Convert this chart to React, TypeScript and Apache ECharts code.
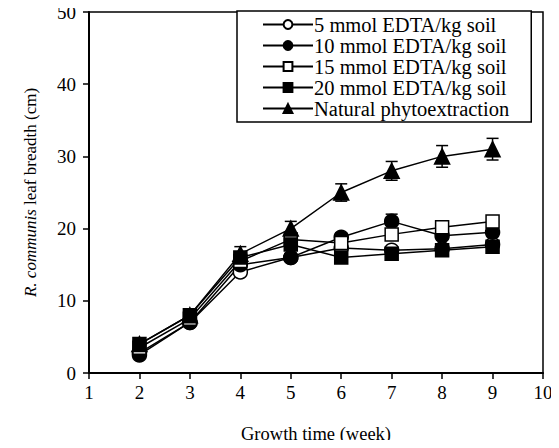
import React, { useEffect, useRef } from "react";
import * as echarts from "echarts";

const weeks = [2, 3, 4, 5, 6, 7, 8, 9];
const s5 = [2.8, 7.0, 14.0, 16.0, 17.3, 17.0, 17.2, 17.8];
const s10 = [2.5, 7.0, 15.0, 16.0, 18.8, 21.0, 19.0, 19.5];
const s15 = [3.5, 7.5, 15.5, 18.5, 18.0, 19.2, 20.2, 21.0];
const s20 = [4.0, 8.0, 16.0, 17.8, 16.0, 16.5, 17.0, 17.5];
const natural = [4.0, 8.0, 16.5, 20.0, 25.0, 28.0, 30.0, 31.0];
const naturalErr = [0.3, 0.4, 1.0, 1.0, 1.2, 1.3, 1.5, 1.5];
const s10Err = [0.2, 0.3, 0.5, 0.5, 0.6, 1.0, 0.6, 0.6];
const yTicks = [0, 10, 20, 30, 40, 50];
const xTicks = [1, 2, 3, 4, 5, 6, 7, 8, 9, 10];

const names = [
  "5 mmol EDTA/kg soil",
  "10 mmol EDTA/kg soil",
  "15 mmol EDTA/kg soil",
  "20 mmol EDTA/kg soil",
  "Natural phytoextraction",
];

const FONT = "'Liberation Serif', 'Times New Roman', serif";

export default function App() {
  const ref = useRef<HTMLDivElement>(null);
  useEffect(() => {
    if (!ref.current) return;
    const chart = echarts.init(ref.current, undefined, { renderer: "svg" });
    const pair = (arr: number[]) => weeks.map((w, i) => [w, arr[i]]);
    const errData = (arr: number[], err: number[]) =>
      weeks.map((w, i) => [w, arr[i] - err[i], arr[i] + err[i]]);
    const errSeries = (arr: number[], err: number[], z: number) => ({
      type: "custom",
      z,
      silent: true,
      data: errData(arr, err),
      renderItem: (params: any, api: any) => {
        const x = api.value(0);
        const lo = api.coord([x, api.value(1)]);
        const hi = api.coord([x, api.value(2)]);
        const w = 6;
        const st = { stroke: "#000", lineWidth: 1.5 };
        return {
          type: "group",
          children: [
            { type: "line", shape: { x1: lo[0], y1: lo[1], x2: hi[0], y2: hi[1] }, style: st },
            { type: "line", shape: { x1: hi[0] - w, y1: hi[1], x2: hi[0] + w, y2: hi[1] }, style: st },
            { type: "line", shape: { x1: lo[0] - w, y1: lo[1], x2: lo[0] + w, y2: lo[1] }, style: st },
          ],
        };
      },
    });
    const lineSeries = (name: string, arr: number[], symbol: string, fill: string, size: number) => ({
      name,
      type: "line",
      data: pair(arr),
      symbol,
      symbolSize: size,
      showAllSymbol: true,
      lineStyle: { color: "#000", width: 1.5 },
      itemStyle: { color: fill, borderColor: "#000", borderWidth: 1.5 },
      z: 3,
    });
    chart.setOption({
      animation: false,
      backgroundColor: "#fff",
      grid: { left: 89, right: 16, top: 12, bottom: 74, show: true, borderColor: "#000", borderWidth: 1.5 },
      legend: {
        data: names,
        orient: "vertical",
        left: 237,
        top: 11,
        itemWidth: 50,
        itemHeight: 11,
        itemGap: 0,
        padding: [3, 22, 3, 25],
        backgroundColor: "#fff",
        borderColor: "#000",
        borderWidth: 1.5,
        borderRadius: 0,
        textStyle: { fontFamily: FONT, fontSize: 20.5, lineHeight: 20.5, color: "#000", padding: [0, 0, 0, -4] },
        inactiveColor: "#000",
        selectedMode: false,
        z: 10,
      },
      xAxis: {
        type: "value",
        min: 1,
        max: 10,
        interval: 1,
        name: "Growth time (week)",
        nameLocation: "middle",
        nameGap: 51,
        nameTextStyle: { fontFamily: FONT, fontSize: 18.5, color: "#000" },
        axisLine: { show: true, onZero: false, lineStyle: { color: "#000", width: 2 } },
        axisTick: { show: true, inside: false, length: 6, lineStyle: { color: "#000", width: 1.5 } },
        axisLabel: {
          fontFamily: FONT,
          fontSize: 19,
          color: "#000",
          margin: 10,
          formatter: (v: number) => (xTicks.includes(v) ? String(v) : ""),
        },
        splitLine: { show: false },
      },
      yAxis: {
        type: "value",
        min: 0,
        max: 50,
        interval: 10,
        name: "{i|R. communis} leaf breadth (cm)",
        nameLocation: "middle",
        nameGap: 50,
        nameRotate: 90,
        nameTextStyle: {
          fontFamily: FONT,
          fontSize: 17,
          color: "#000",
          rich: { i: { fontFamily: FONT, fontSize: 17, fontStyle: "italic", color: "#000" } },
        },
        axisLine: { show: true, lineStyle: { color: "#000", width: 2 } },
        axisTick: { show: true, inside: false, length: 6, lineStyle: { color: "#000", width: 1.5 } },
        axisLabel: {
          fontFamily: FONT,
          fontSize: 19,
          color: "#000",
          margin: 13,
          formatter: (v: number) => (yTicks.includes(v) ? String(v) : ""),
        },
        splitLine: { show: false },
      },
      series: [
        errSeries(natural, naturalErr, 2),
        errSeries(s10, s10Err, 2),
        lineSeries(names[0], s5, "circle", "#fff", 14),
        lineSeries(names[1], s10, "circle", "#000", 14),
        lineSeries(names[2], s15, "rect", "#fff", 13),
        lineSeries(names[3], s20, "rect", "#000", 13),
        lineSeries(names[4], natural, "triangle", "#000", 15),
      ],
    });
    return () => chart.dispose();
  }, []);
  return <div ref={ref} style={{ width: 559, height: 448, margin: -8 }} />;
}
